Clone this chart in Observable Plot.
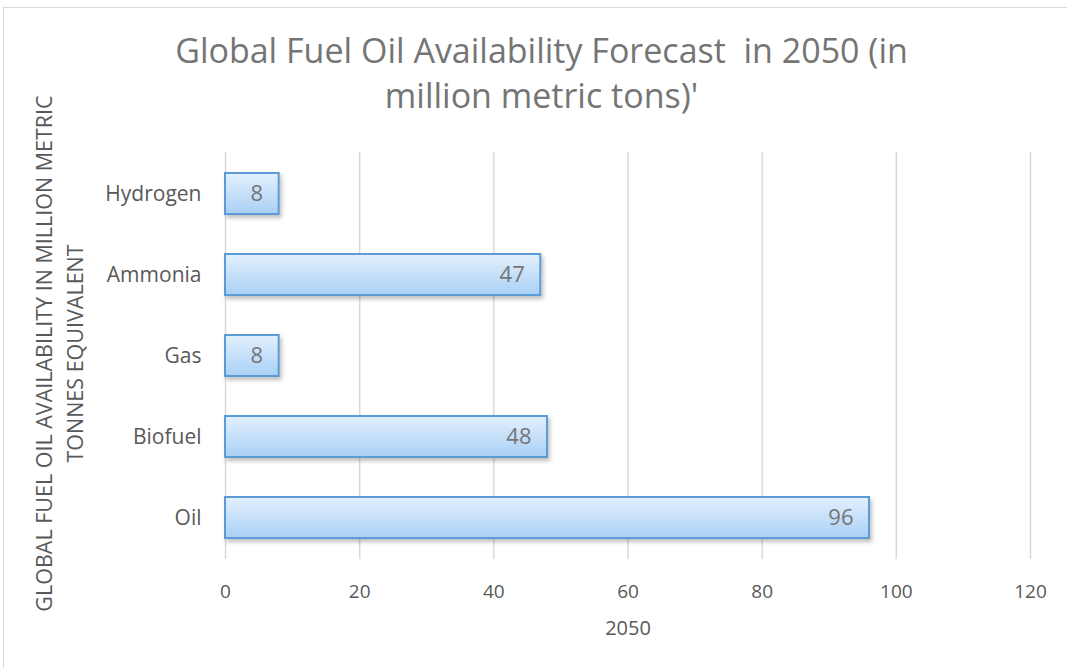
<!DOCTYPE html>
<html>
<head>
<meta charset="utf-8">
<script src="https://cdn.jsdelivr.net/npm/d3@7"></script>
<script src="https://cdn.jsdelivr.net/npm/@observablehq/plot@0.6"></script>
<style>
  html, body { margin: 0; padding: 0; background: #fff; }
  #wrap { position: relative; width: 1067px; height: 668px; overflow: hidden; font-family: "Open Sans", sans-serif; }
  #frame { position: absolute; left: 3px; top: 7px; width: 1070px; height: 670px; border: 1px solid #d9d9d9; box-sizing: border-box; }
  #chart { position: absolute; left: 0; top: 0; }
</style>
</head>
<body>
<div id="wrap">
  <div id="frame"></div>
  <div id="chart"></div>
</div>
<script>
// Fuel sources and their 2050 availability (million metric tons)
const categories = ["Hydrogen", "Ammonia", "Gas", "Biofuel", "Oil"];
const values = [8, 47, 8, 48, 96];
const xTicks = [0, 20, 40, 60, 80, 100, 120];
const titleLines = ["Global Fuel Oil Availability Forecast  in 2050 (in", "million metric tons)'"];
const yLabelLines = ["GLOBAL FUEL OIL AVAILABILITY IN MILLION METRIC", "TONNES EQUIVALENT"];
const xLabel = "2050";

const rows = categories.map((c, i) => ({category: c, value: values[i]}));

const W = 1067, H = 668;
const mTop = 152, mBottom = 109, mLeft = 225, mRight = 37;

const textColor = "#595959";

const chart = Plot.plot({
  width: W,
  height: H,
  marginTop: mTop,
  marginBottom: mBottom,
  marginLeft: mLeft,
  marginRight: mRight,
  style: {fontFamily: "'Open Sans', sans-serif", fontSize: "19px", color: textColor, background: "transparent", overflow: "visible"},
  x: {domain: [0, 120], ticks: xTicks, label: null, tickSize: 0, tickPadding: 25},
  y: {domain: categories, label: null, paddingInner: 0.5, paddingOuter: 0.25, tickSize: 0, tickPadding: 24},
  marks: [
    Plot.gridX(xTicks, {stroke: "#d9d9d9", strokeOpacity: 1, strokeWidth: 1.5}),
    Plot.barX(rows, {x: "value", y: "category", fill: "url(#barGrad)", stroke: "#5b9bd5", strokeWidth: 2}),
    Plot.text(rows, {x: "value", y: "category", text: d => String(d.value), textAnchor: "end", lineAnchor: "middle", dx: -16, fill: "#757575", fontSize: 22}),
    // chart title
    Plot.text(titleLines, {frameAnchor: "top", text: d => d, textAnchor: "middle", lineAnchor: "middle", fill: "#757575", fontSize: 34}),
    // x-axis title
    Plot.text([xLabel], {frameAnchor: "bottom", text: d => d, dy: 75, fill: textColor, fontSize: 20}),
    // y-axis title
    Plot.text(yLabelLines, {frameAnchor: "left", text: d => d, rotate: -90, textAnchor: "middle", lineAnchor: "middle", fill: textColor, fontSize: 21.5})
  ]
});

// Style the category labels and place the free-floating titles
const svg = d3.select(chart);
svg.select("g[aria-label='y-axis tick label']").attr("font-size", 21);
const texts = svg.selectAll("g[aria-label='text']").nodes();
d3.select(texts[1]).selectAll("text").attr("transform", (d, i) => `translate(${541},${52 + i * 45})`);
d3.select(texts[3]).selectAll("text").attr("transform", (d, i) => `translate(${45 + i * 31},${353}) rotate(-90)`);

// bar gradient and soft shadow
const defs = svg.insert("defs", ":first-child");
const grad = defs.append("linearGradient").attr("id", "barGrad").attr("x1", 0).attr("y1", 0).attr("x2", 0).attr("y2", 1);
grad.append("stop").attr("offset", "0%").attr("stop-color", "#e3f0fd");
grad.append("stop").attr("offset", "100%").attr("stop-color", "#a9d0f6");
const f = defs.append("filter").attr("id", "barShadow").attr("x", "-10%").attr("y", "-20%").attr("width", "130%").attr("height", "160%");
f.append("feDropShadow").attr("dx", 2).attr("dy", 3).attr("stdDeviation", 2).attr("flood-color", "#000").attr("flood-opacity", 0.25);
svg.select("g[aria-label='bar']").attr("filter", "url(#barShadow)");

document.getElementById("chart").appendChild(chart);
</script>
</body>
</html>
